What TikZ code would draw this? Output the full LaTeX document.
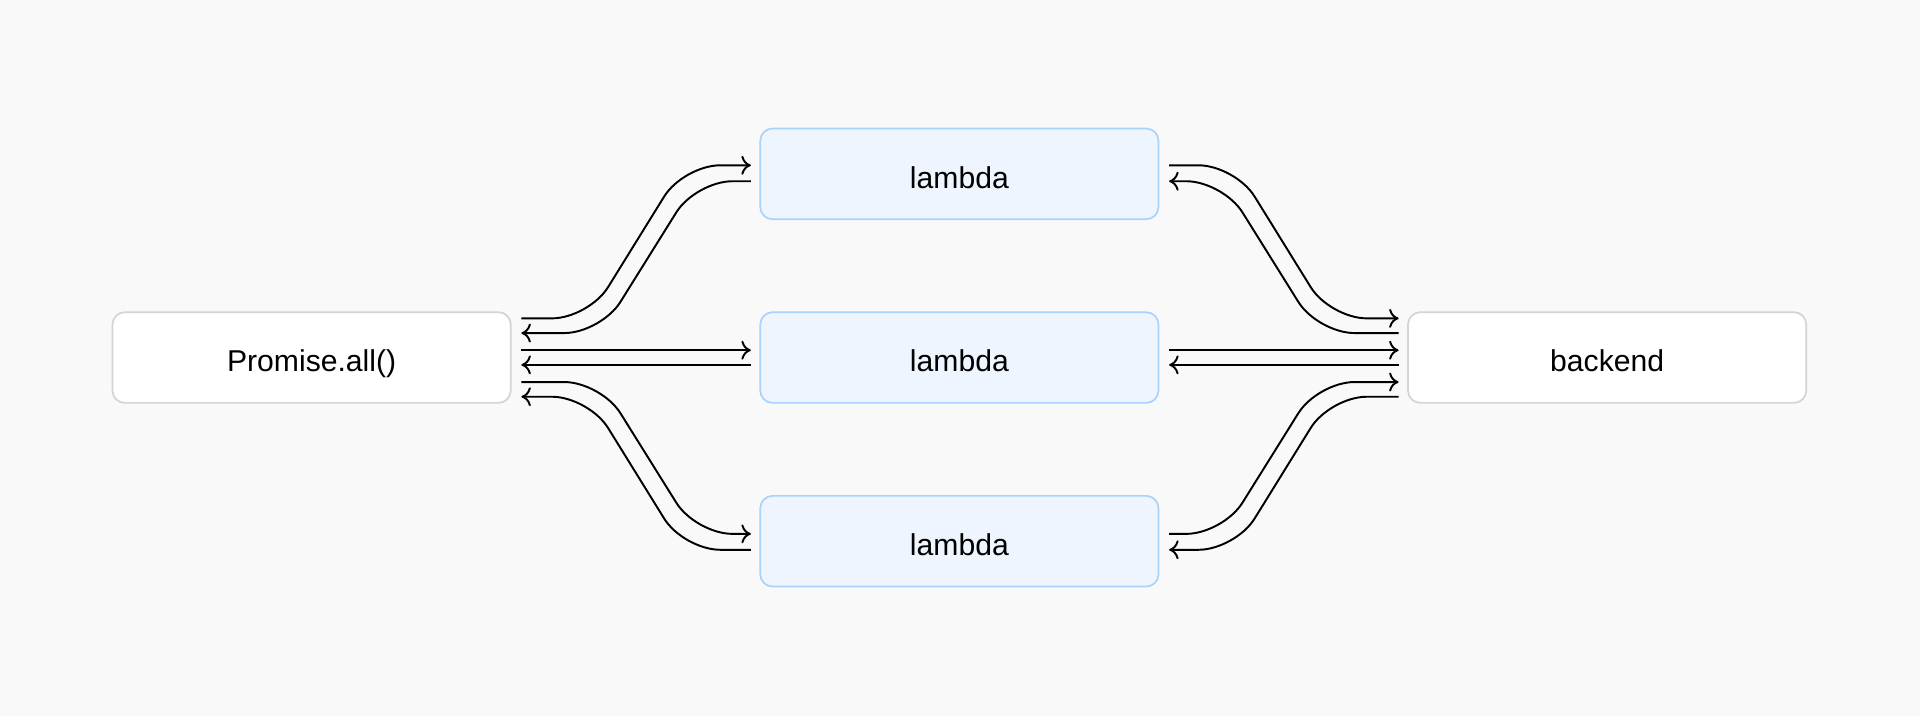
\documentclass[tikz,border=0pt]{standalone}
\usepackage{fontspec}
\setmainfont{Liberation Sans}
\usetikzlibrary{arrows.meta,positioning}
\definecolor{bgc}{HTML}{F9F9F9}
\definecolor{boxline}{HTML}{D4D4D4}
\definecolor{lamfill}{HTML}{EEF5FE}
\definecolor{lamline}{HTML}{A9D3F8}
\tikzset{
  box/.style={draw=boxline, fill=white, rounded corners=0.1cm, minimum width=3.25cm, minimum height=0.74cm, line width=0.4pt, text height=1.7ex, text depth=0.45ex, font=\fontsize{7}{8}\selectfont},
  lam/.style={box, draw=lamline, fill=lamfill},
  flow/.style={-{To[length=2.2pt,width=4.4pt]}, line width=0.45pt, rounded corners=0.3cm},
}
\begin{document}
\begin{tikzpicture}[x=0.01cm, y=-0.01cm]
 \fill[bgc] (0,0) rectangle (1568,585);
 % Boxes
 \node[box] (promise) at (254.5,292) {Promise.all()};
 \node[lam] (lam1) at (783.5,142) {lambda};
 \node[lam] (lam2) at (783.5,292) {lambda};
 \node[lam] (lam3) at (783.5,442) {lambda};
 \node[box] (backend) at (1312.5,292) {backend};

 % Promise.all() <-> lambdas
 \draw[flow] ([shift={(8,-32)}]promise.east) -- ([shift={(63,-32)}]promise.east) -- ([shift={(-62,-7)}]lam1.west) -- ([shift={(-7,-7)}]lam1.west);
 \draw[flow] ([shift={(-7,6)}]lam1.west) -- ([shift={(-52,6)}]lam1.west) -- ([shift={(73,-20)}]promise.east) -- ([shift={(8,-20)}]promise.east);
 \draw[flow] ([shift={(8,-6)}]promise.east) -- ([shift={(-7,-6)}]lam2.west);
 \draw[flow] ([shift={(-7,6)}]lam2.west) -- ([shift={(8,6)}]promise.east);
 \draw[flow] ([shift={(8,20)}]promise.east) -- ([shift={(73,20)}]promise.east) -- ([shift={(-52,-6)}]lam3.west) -- ([shift={(-7,-6)}]lam3.west);
 \draw[flow] ([shift={(-7,7)}]lam3.west) -- ([shift={(-62,7)}]lam3.west) -- ([shift={(63,32)}]promise.east) -- ([shift={(8,32)}]promise.east);

 % lambdas <-> backend
 \draw[flow] ([shift={(8,-7)}]lam1.east) -- ([shift={(62,-7)}]lam1.east) -- ([shift={(-63,-32)}]backend.west) -- ([shift={(-7,-32)}]backend.west);
 \draw[flow] ([shift={(-7,-20)}]backend.west) -- ([shift={(-73,-20)}]backend.west) -- ([shift={(52,6)}]lam1.east) -- ([shift={(8,6)}]lam1.east);
 \draw[flow] ([shift={(8,-6)}]lam2.east) -- ([shift={(-7,-6)}]backend.west);
 \draw[flow] ([shift={(-7,6)}]backend.west) -- ([shift={(8,6)}]lam2.east);
 \draw[flow] ([shift={(8,-6)}]lam3.east) -- ([shift={(52,-6)}]lam3.east) -- ([shift={(-73,20)}]backend.west) -- ([shift={(-7,20)}]backend.west);
 \draw[flow] ([shift={(-7,32)}]backend.west) -- ([shift={(-63,32)}]backend.west) -- ([shift={(62,7)}]lam3.east) -- ([shift={(8,7)}]lam3.east);
\end{tikzpicture}
\end{document}
